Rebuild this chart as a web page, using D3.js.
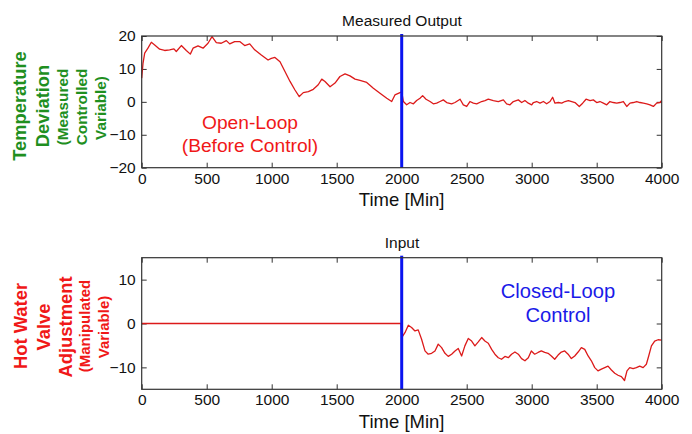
<!DOCTYPE html>
<html><head><meta charset="utf-8">
<script src="https://cdn.jsdelivr.net/npm/d3@7"></script>
<style>body{margin:0;background:#fff}svg{display:block;font-family:"Liberation Sans",Arial,sans-serif}</style>
</head><body>
<svg id="c" width="692" height="434"></svg>
<script>
// ---- data ----
const xTicks = [0,500,1000,1500,2000,2500,3000,3500,4000];
const yTicksTop = [-20,-10,0,10,20];
const yTicksBottom = [-10,0,10];
const switchTime = 2000;

const outputTime = [0,10,23,48,74,100,138,177,215,248,266,305,343,374,395,433,472,510,541,574,612,651,677,715,754,792,831,869,920,972,997,1025,1064,1102,1141,1179,1212,1243,1282,1320,1358,1385,1410,1449,1487,1525,1564,1602,1641,1679,1731,1782,1833,1885,1923,1948,1987,2000,
2013,2038,2064,2090,2115,2141,2161,2187,2218,2243,2269,2295,2320,2346,2384,2410,2449,2474,2500,2525,2551,2577,2615,2641,2666,2705,2743,2782,2807,2833,2859,2897,2923,2948,2974,3000,
3013,3038,3064,3090,3115,3141,3161,3179,3205,3231,3256,3282,3308,3333,3366,3392,3418,3449,3474,3500,3525,3551,3577,3602,3628,3654,3679,3705,3731,3756,3782,3808,3833,3859,3885,3910,3936,3961,3987,4000];
const outputValue = [7.2,11.7,14.8,16.3,18.1,17.3,16.0,15.6,15.8,16.1,15.3,17.1,15.6,14.5,16.3,17.0,16.3,17.8,19.8,18.0,17.8,18.6,17.6,18.3,18.3,17.1,17.6,15.8,14.2,12.7,13.2,13.5,12.2,9.2,6.2,3.6,1.6,2.8,3.1,3.8,5.2,6.9,6.2,4.6,5.7,7.7,8.5,7.9,6.9,6.5,5.9,4.1,2.6,1.1,0.1,2.1,2.8,3.0,
0.1,-0.9,-0.2,-0.6,0.4,1.1,1.9,0.8,0.1,-0.6,-0.4,0.1,0.6,-0.2,-0.6,-0.2,0.8,-0.9,-1.4,0.1,-0.4,-0.6,0.1,0.4,0.8,0.4,0.1,0.6,-0.6,-0.9,0.1,0.6,-0.2,0.4,-0.4,-0.9,
-0.2,0.1,-0.4,0.1,-0.6,0.1,1.4,-0.4,-0.2,-0.4,0.1,0.4,0.1,-0.2,-1.4,-0.4,0.8,0.4,0.6,-0.2,0.1,-0.4,-0.9,0.1,-0.2,-0.4,-0.2,0.1,-1.4,-0.4,-0.2,0.1,-0.2,-0.4,-0.6,-0.9,-1.4,-0.4,-0.2,0.4];

const inputTime = [0,1995,2000,2025,2051,2076,2102,2127,2153,2179,2204,2230,2256,2281,2307,2333,2358,2384,2410,2435,2461,2486,2512,2538,2563,2589,2615,2640,2666,2692,2717,2743,2768,2794,2820,2845,2871,2897,2922,2948,2974,
2997,3023,3049,3074,3100,3126,3151,3177,3203,3228,3254,3280,3305,3331,3357,3382,3408,3434,3459,3485,3510,3536,3562,3587,3613,3639,3664,3690,3714,3733,3754,3780,3805,3831,3857,3882,3900,3921,3946,3972,4000];
const inputValue = [0,0,-3.2,-2.1,-0.4,-0.9,-1.7,-1.45,-3.6,-6.25,-7.0,-6.8,-6.25,-4.7,-5.5,-6.8,-7.5,-7.0,-6.25,-5.7,-7.4,-5.1,-3.4,-4.0,-5.1,-4.2,-3.2,-4.0,-4.5,-5.9,-7.0,-7.8,-8.15,-7.5,-7.8,-7.0,-6.5,-7.0,-8.0,-8.5,-7.8,
-6.25,-7.0,-6.6,-6.25,-6.6,-6.8,-7.4,-8.15,-7.2,-6.5,-6.25,-7.0,-8.0,-7.4,-6.5,-5.5,-5.9,-7.4,-8.5,-10.05,-10.8,-10.4,-10.05,-9.7,-10.6,-11.35,-11.8,-12.1,-13.0,-10.8,-10.05,-10.3,-10.05,-9.7,-10.05,-9.3,-7.4,-5.1,-4.0,-3.7,-3.8];

// ---- drawing ----
const svg = d3.select("#c");
const red = "#dc1a1a", blue = "#0a14f0", green = "#1f8f1f", frame = "#333";
const fmt = d3.format("d");

function panel(cfg){
  const g = svg.append("g");
  const x = d3.scaleLinear().domain([0,4000]).range([141.7,661.7]);
  const y = d3.scaleLinear().domain(cfg.yDomain).range([cfg.bottom, cfg.top]);
  const L=x.range()[0], R=x.range()[1], T=cfg.top, B=cfg.bottom, tl=5;
  const xb = d3.axisBottom(x).tickValues(xTicks).tickFormat(fmt).tickSizeInner(-tl).tickSizeOuter(0).tickPadding(5);
  const xt = d3.axisTop(x).tickValues(xTicks).tickSizeInner(-tl).tickSizeOuter(0).tickFormat("");
  const yl = d3.axisLeft(y).tickValues(cfg.yTicks).tickFormat(fmt).tickSizeInner(-tl).tickSizeOuter(0).tickPadding(6);
  const yr = d3.axisRight(y).tickValues(cfg.yTicks).tickSizeInner(-tl).tickSizeOuter(0).tickFormat("");
  const ax = [
    g.append("g").attr("transform",`translate(0,${B})`).call(xb),
    g.append("g").attr("transform",`translate(0,${T})`).call(xt),
    g.append("g").attr("transform",`translate(${L},0)`).call(yl),
    g.append("g").attr("transform",`translate(${R},0)`).call(yr)
  ];
  ax.forEach(a=>{
    a.select(".domain").remove();
    a.selectAll("line").attr("stroke",frame);
    a.selectAll("text").attr("fill","#111").style("font-size","15.5px").style("font-family","'Liberation Sans',Arial,sans-serif");
  });
  const line = d3.line().x(d=>x(d[0])).y(d=>y(d[1]));
  g.append("path").datum(cfg.t.map((t,i)=>[t,cfg.v[i]]))
    .attr("d",line).attr("fill","none").attr("stroke",red).attr("stroke-width",1.3).attr("stroke-linejoin","round");
  g.append("line").attr("x1",x(switchTime)).attr("x2",x(switchTime))
    .attr("y1",T-2).attr("y2",B).attr("stroke",blue).attr("stroke-width",3);
  g.append("rect").attr("x",L).attr("y",T).attr("width",R-L).attr("height",B-T)
    .attr("fill","none").attr("stroke",frame).attr("stroke-width",1.2);
  g.append("text").attr("x",402).attr("y",T-10).attr("text-anchor","middle")
    .style("font-size","15.5px").attr("fill","#111").text(cfg.title);
  g.append("text").attr("x",(L+R)/2).attr("y",B+38.5).attr("text-anchor","middle")
    .style("font-size","18.5px").attr("fill","#111").text("Time [Min]");
  return {x,y};
}

panel({top:36,bottom:167.7,yDomain:[-20,20],yTicks:yTicksTop,t:outputTime,v:outputValue,title:"Measured Output"});
panel({top:257.7,bottom:389.3,yDomain:[-15,15],yTicks:yTicksBottom,t:inputTime,v:inputValue,title:"Input"});

function note(lines,cx,cy,color,size,gap){
  lines.forEach((s,i)=>svg.append("text").attr("x",cx).attr("y",cy+i*gap).attr("text-anchor","middle")
    .attr("dominant-baseline","central").style("font-size",size+"px").attr("fill",color).text(s));
}
note(["Open-Loop","(Before Control)"],250,122.5,"#f01818",19.2,22.5);
note(["Closed-Loop","Control"],558,291,"#1a1ae8",20.2,24);

function vlabel(items,color){
  items.forEach(it=>{
    svg.append("text").attr("transform",`translate(${it.x},${it.y}) rotate(-90)`)
      .attr("text-anchor","middle").attr("dominant-baseline","central")
      .style("font-size",it.s+"px").style("font-weight","bold").attr("fill",color).text(it.t);
  });
}
vlabel([
  {t:"Temperature",x:19,y:106,s:18.3},
  {t:"Deviation",x:42,y:106,s:18.3},
  {t:"(Measured",x:62,y:107,s:15.3},
  {t:"Controlled",x:81,y:107,s:15.3},
  {t:"Variable)",x:100,y:108,s:15.3}
],green);
vlabel([
  {t:"Hot Water",x:20,y:326,s:18.4},
  {t:"Valve",x:43,y:327,s:18.4},
  {t:"Adjustment",x:65,y:327,s:18.4},
  {t:"(Manipulated",x:84,y:326,s:15},
  {t:"Variable)",x:103,y:327,s:15}
],"#f01818");
</script>
</body></html>
